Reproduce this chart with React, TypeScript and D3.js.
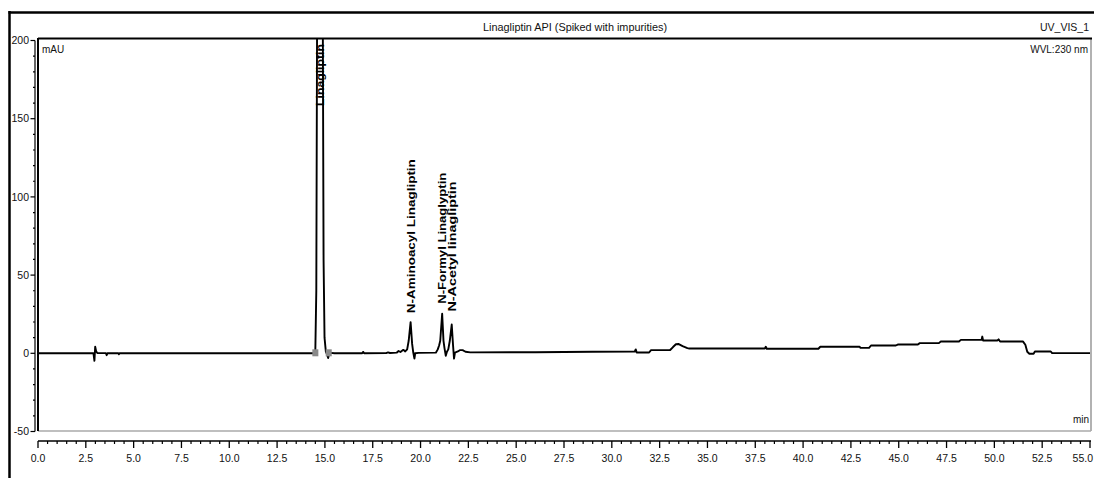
import React from "react";
import * as d3 from "d3";

// Chromatogram trace: retention time (min) vs absorbance (mAU)
const trace: [number, number][] = [
  [0.0, 0.0], [2.9, 0.0], [2.95, -4.8], [2.99, 4.2], [3.04, 1.2], [3.1, 0.2],
  [3.55, 0.1], [3.59, -1.2], [3.63, 0.0], [4.2, 0.0], [4.23, -0.6], [4.26, 0.0],
  [14.4, 0.0], [14.5, 2], [14.55, 40], [14.6, 250], [14.66, 650], [14.74, 900],
  [14.82, 650], [14.88, 250], [14.93, 60], [14.98, 10], [15.05, 1], [15.12, -1],
  [15.17, -3], [15.22, -0.5], [15.3, 0.3], [15.5, 0.0], [16.95, 0.0], [17.0, 0.9],
  [17.05, 0.0], [18.2, 0.1], [18.3, 0.6], [18.4, 0.2], [18.75, 0.4], [18.85, 1.5],
  [18.95, 0.8], [19.1, 2.2], [19.2, 1.2], [19.3, 2.5], [19.38, 8], [19.48, 19.9],
  [19.56, 6], [19.62, 0.5], [19.68, -3.4], [19.72, 0.0], [19.9, 0.3], [20.8, 0.4],
  [20.9, 2.5], [20.97, 5.0], [21.03, 8], [21.13, 25.3], [21.2, 8], [21.25, 3.5],
  [21.32, -1.6], [21.38, 1.0], [21.45, 2.5], [21.53, 8], [21.63, 18.4], [21.7, 5],
  [21.75, -3.4], [21.8, 0.5], [21.95, 1.2], [22.05, 2.0], [22.2, 2.0], [22.35, 1.0],
  [22.6, 0.6], [26.0, 0.7], [29.0, 1.0], [31.2, 1.15], [31.25, 2.5], [31.3, 0.5],
  [31.95, 0.5], [32.05, 2.0], [33.05, 2.1], [33.2, 4.0], [33.35, 5.8], [33.5, 5.9],
  [33.7, 4.6], [33.95, 3.3], [34.05, 3.1], [38.0, 3.1], [38.05, 4.2], [38.1, 2.9],
  [40.8, 2.9], [40.9, 4.2], [42.95, 4.2], [43.0, 3.5], [43.45, 3.5], [43.55, 5.0],
  [44.85, 5.0], [44.95, 5.6], [46.0, 5.6], [46.1, 6.5], [47.1, 6.5], [47.2, 7.5],
  [48.15, 7.5], [48.25, 8.6], [49.33, 8.6], [49.37, 10.7], [49.41, 8.2], [50.15, 8.2],
  [50.22, 8.9], [50.3, 7.5], [51.5, 7.5], [51.62, 5.5], [51.72, 1.0], [51.83, -0.3],
  [52.05, -0.3], [52.12, 1.15], [52.95, 1.15], [53.02, 0.1], [55.0, 0.1],
];

// Named peaks (retention time, apex height)
const peakNames = ["N-Aminoacyl Linagliptin", "N-Formyl Linaglyptin", "N-Acetyl linagliptin"];
const peakTimes = [19.48, 21.13, 21.63];
const peakHeights = [19.9, 25.3, 18.4];
const mainPeakName = "Linagliptin";
const mainPeakTime = 14.74;

// Integration delimiters of the main peak (min)
const delimiterTimes = [14.5, 15.2];

const yTickValues = [-50, 0, 50, 100, 150, 200];
const xTickLabels = ["0.0", "2.5", "5.0", "7.5", "10.0", "12.5", "15.0", "17.5", "20.0", "22.5", "25.0",
  "27.5", "30.0", "32.5", "35.0", "37.5", "40.0", "42.5", "45.0", "47.5", "50.0", "52.5", "55.0"];

const W = 1094;
const H = 478;
const plot = { left: 38, right: 1091, top: 38, bottom: 431 };
const labelGap = [9, 10, 13];
const labelLen = [154, 131, 130];
const font = "'Liberation Sans Narrow', 'Liberation Sans', Arial, sans-serif";

export default function App() {
  const x = d3.scaleLinear().domain([0, 55]).range([38, 1090]);
  const y = d3.scaleLinear().domain([-50, 200]).range([431.5, 40.5]);

  const line = d3.line<[number, number]>().x((d) => x(d[0])).y((d) => y(d[1]));

  const yMinor = d3.range(-50, 201, 10).filter((v) => v % 50 !== 0);
  const xMinor = d3.range(0, 55.01, 0.5).filter((v) => Math.abs(v / 2.5 - Math.round(v / 2.5)) > 1e-6);
  const lastTick = xTickLabels.length - 1;

  return (
    <svg width={W} height={H} style={{ position: "absolute", left: 0, top: 0, background: "#fff" }}
      fontFamily={font}>
      <defs>
        <clipPath id="plotClip">
          <rect x={plot.left} y={plot.top} width={plot.right - plot.left} height={plot.bottom - plot.top} />
        </clipPath>
      </defs>

      {/* outer frame */}
      <line x1={9.5} x2={9.5} y1={11} y2={H} stroke="#000" strokeWidth={2.5} />
      <line x1={8.5} x2={W} y1={12.5} y2={12.5} stroke="#000" strokeWidth={2.5} />

      {/* header */}
      <text x={575} y={30.5} fontSize={10.5} textAnchor="middle" fill="#111"
        textLength={184} lengthAdjust="spacingAndGlyphs">
        Linagliptin  API (Spiked with impurities)
      </text>
      <text x={1089} y={31} fontSize={10.5} textAnchor="end" fill="#111">UV_VIS_1</text>

      {/* plot frame */}
      <line x1={plot.right} x2={plot.right} y1={plot.top} y2={plot.bottom} stroke="#999" strokeWidth={1.5} />
      <line x1={plot.left} x2={plot.right} y1={plot.bottom} y2={plot.bottom} stroke="#aaa" strokeWidth={1.5} />
      <line x1={plot.left} x2={plot.left} y1={plot.top} y2={plot.bottom} stroke="#000" strokeWidth={2} />
      <line x1={plot.left} x2={plot.right + 1} y1={plot.top + 0.5} y2={plot.top + 0.5} stroke="#000" strokeWidth={2} />

      <text x={42} y={53} fontSize={10} fill="#111">mAU</text>
      <text x={1088} y={53} fontSize={10} textAnchor="end" fill="#111">WVL:230 nm</text>
      <text x={1089} y={423} fontSize={10} textAnchor="end" fill="#111">min</text>

      {/* y axis */}
      <line x1={35} x2={35} y1={y(200)} y2={y(-50)} stroke="#000" strokeWidth={1.2} />
      {yTickValues.map((v) => (
        <g key={v}>
          <line x1={30.5} x2={35} y1={y(v)} y2={y(v)} stroke="#000" strokeWidth={1.2} />
          <text x={29} y={y(v)} dy="0.35em" fontSize={10.5} textAnchor="end" fill="#111">{v}</text>
        </g>
      ))}
      {yMinor.map((v) => (
        <line key={v} x1={33} x2={35} y1={y(v)} y2={y(v)} stroke="#000" strokeWidth={1.2} />
      ))}

      {/* x axis */}
      <line x1={x(0)} x2={x(55) + 1} y1={441} y2={441} stroke="#000" strokeWidth={1.5} />
      {xTickLabels.map((t, i) => {
        const v = +t;
        const last = i === lastTick;
        return (
          <g key={t}>
            <line x1={x(v)} x2={x(v)} y1={441} y2={448} stroke="#000" strokeWidth={1.3} />
            <text x={last ? W - 1 : x(v)} y={462} fontSize={10.5} textAnchor={last ? "end" : "middle"}
              fill="#111">{t}</text>
          </g>
        );
      })}
      {xMinor.map((v) => (
        <line key={v} x1={x(v)} x2={x(v)} y1={441} y2={444} stroke="#000" strokeWidth={1.2} />
      ))}

      {/* trace */}
      <g clipPath="url(#plotClip)">
        <path d={line(trace) ?? ""} fill="none" stroke="#000" strokeWidth={1.9} strokeLinejoin="round" />
        {delimiterTimes.map((t) => (
          <rect key={t} x={x(t) - 3} y={y(0) - 4} width={6} height={7} fill="#8a8a8a" />
        ))}
      </g>

      {/* peak labels */}
      <text transform={`translate(${x(mainPeakTime) + 1},106) rotate(-90)`} dy="0.35em" fontSize={10}
        fontWeight="bold" textLength={62} lengthAdjust="spacingAndGlyphs" fill="#000">
        {mainPeakName}
      </text>
      {peakNames.map((name, i) => (
        <text key={name}
          transform={`translate(${x(peakTimes[i]) + 0.5},${y(peakHeights[i]) - labelGap[i]}) rotate(-90)`}
          dy="0.35em" fontSize={10} fontWeight="bold" textLength={labelLen[i]}
          lengthAdjust="spacingAndGlyphs" fill="#000">
          {name}
        </text>
      ))}
    </svg>
  );
}
